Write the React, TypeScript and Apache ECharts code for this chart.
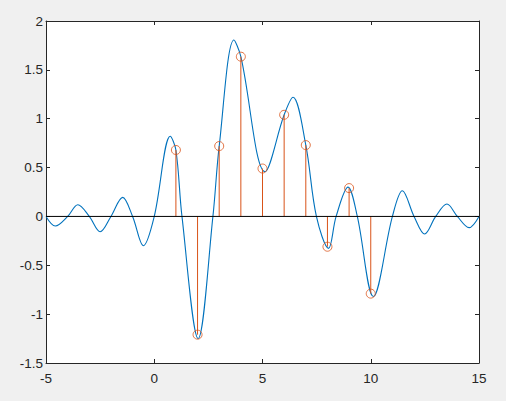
import React, { useEffect, useRef } from "react";
import * as echarts from "echarts";

const xMin = -5;
const xMax = 15;
const xInterval = 5;
const yMin = -1.5;
const yMax = 2;
const yInterval = 0.5;

// sample positions and values (stem plot)
const sampleN = [1, 2, 3, 4, 5, 6, 7, 8, 9, 10];
const sampleV = [0.68, -1.21, 0.72, 1.635, 0.49, 1.04, 0.73, -0.31, 0.29, -0.79];

// reconstructed curve
const curveT = [
  -5, -4.57, -4.0, -3.53, -3.0, -2.5, -2.0, -1.46, -1.0, -0.5, 0, 0.74, 1, 1.28,
  2.03, 2.71, 3, 3.68, 4, 5.12, 6, 6.41, 7, 7.49, 8.05, 8.4, 8.95, 9.38, 10.12,
  11, 11.46, 12, 12.49, 13, 13.52, 14, 14.54, 15,
];
const curveV = [
  0, -0.098, 0, 0.12, 0, -0.157, 0, 0.195, 0, -0.3, 0, 0.82, 0.68, 0,
  -1.25, 0, 0.72, 1.805, 1.635, 0.458, 1.04, 1.22, 0.73, 0, -0.327, 0, 0.3, 0, -0.82,
  0, 0.263, 0, -0.18, 0, 0.127, 0, -0.115, 0,
];

const BLUE = "#0072BD";
const ORANGE = "#D95319";
const AXIS = "#262626";

export default function App() {
  const ref = useRef<HTMLDivElement>(null);
  useEffect(() => {
    if (!ref.current) return;
    const chart = echarts.init(ref.current, undefined, { renderer: "svg" });
    const labelStyle = {
      color: AXIS,
      fontFamily: "Liberation Sans, Arial, sans-serif",
      fontSize: 13.5,
    };
    const xCommon = {
      type: "value" as const,
      min: xMin,
      max: xMax,
      interval: xInterval,
      splitLine: { show: false },
      axisLine: { show: true, onZero: false, lineStyle: { color: AXIS, width: 1 } },
      axisTick: { show: true, inside: true, length: 4, lineStyle: { color: AXIS } },
    };
    const yCommon = {
      type: "value" as const,
      min: yMin,
      max: yMax,
      interval: yInterval,
      splitLine: { show: false },
      axisLine: { show: true, onZero: false, lineStyle: { color: AXIS, width: 1 } },
      axisTick: { show: true, inside: true, length: 4, lineStyle: { color: AXIS } },
    };
    chart.setOption({
      animation: false,
      backgroundColor: "#F0F0F0",
      grid: {
        left: 46,
        top: 21,
        width: 433,
        height: 342,
        show: true,
        backgroundColor: "#FFFFFF",
        borderWidth: 0,
      },
      xAxis: [
        { ...xCommon, position: "bottom", axisLabel: { ...labelStyle, margin: 8 } },
        { ...xCommon, position: "top", axisLabel: { show: false } },
      ],
      yAxis: [
        {
          ...yCommon,
          position: "left",
          axisLabel: {
            ...labelStyle,
            margin: 3,
            formatter: (v: number) => String(v),
          },
        },
        { ...yCommon, position: "right", axisLabel: { show: false } },
      ],
      series: [
        {
          type: "line",
          data: curveT.map((t, i) => [t, curveV[i]]),
          smooth: 0.35,
          showSymbol: false,
          symbol: "none",
          lineStyle: { color: BLUE, width: 1.1 },
          z: 2,
        },
        {
          type: "custom",
          data: sampleN.map((n, i) => [n, sampleV[i]]),
          renderItem: (params: any, api: any) => {
            const p0 = api.coord([api.value(0), 0]);
            const p1 = api.coord([api.value(0), api.value(1)]);
            return {
              type: "line",
              shape: { x1: p0[0], y1: p0[1], x2: p1[0], y2: p1[1] },
              style: { stroke: ORANGE, lineWidth: 1 },
            };
          },
          z: 3,
        },
        {
          type: "line",
          data: [
            [xMin, 0],
            [xMax, 0],
          ],
          showSymbol: false,
          symbol: "none",
          lineStyle: { color: "#000000", width: 1 },
          z: 4,
        },
        {
          type: "scatter",
          data: sampleN.map((n, i) => [n, sampleV[i]]),
          symbol: "circle",
          symbolSize: 9,
          itemStyle: { color: "transparent", borderColor: ORANGE, borderWidth: 1 },
          z: 5,
        },
      ],
    });
    return () => chart.dispose();
  }, []);
  return (
    <div
      ref={ref}
      style={{ position: "fixed", left: 0, top: 0, width: 506, height: 401 }}
    />
  );
}
